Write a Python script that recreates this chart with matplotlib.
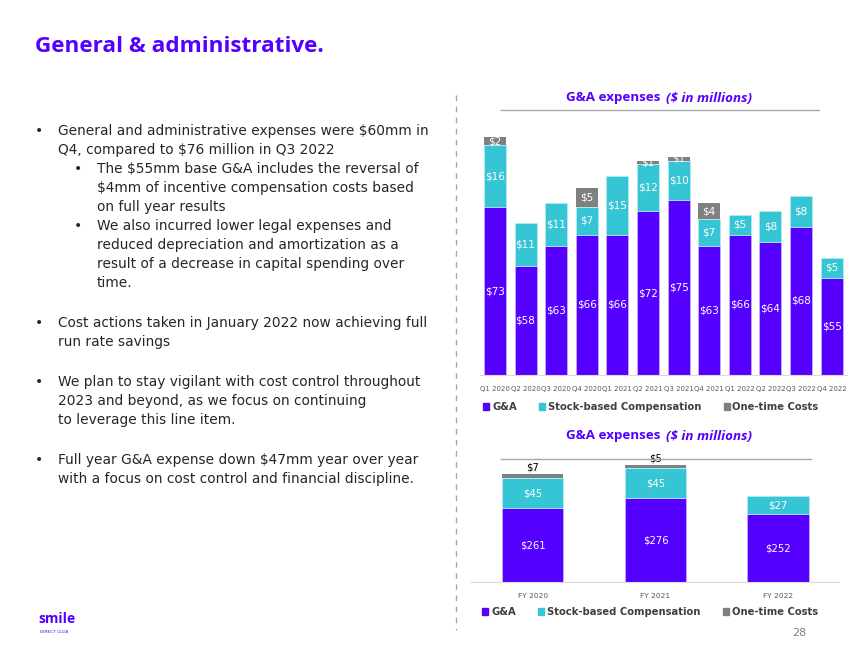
import matplotlib.pyplot as plt
from matplotlib.patches import Patch

# data
quarters = ['Q1 2020', 'Q2 2020', 'Q3 2020', 'Q4 2020', 'Q1 2021', 'Q2 2021',
            'Q3 2021', 'Q4 2021', 'Q1 2022', 'Q2 2022', 'Q3 2022', 'Q4 2022']
q_ga = [73, 58, 63, 66, 66, 72, 75, 63, 66, 64, 68, 55]
q_sbc = [16, 11, 11, 7, 15, 12, 10, 7, 5, 8, 8, 5]
q_one = [2, 0, 0, 5, 0, 1, 1, 4, 0, 0, 0, 0]

years = ['FY 2020', 'FY 2021', 'FY 2022']
y_ga = [261, 276, 252]
y_sbc = [45, 45, 27]
y_one = [7, 5, 0]

PURPLE = '#5500FF'
CYAN = '#36C5D4'
GRAY = '#808080'
TXT = '#262626'
W, H = 850, 657


def fx(px):
    return px / W


def fy(py):
    return 1 - py / H


fig = plt.figure(figsize=(8.5, 6.57), dpi=100)
fig.patch.set_facecolor('white')

# page title
fig.text(fx(35), fy(46), 'General & administrative.', color=PURPLE,
         fontsize=16.2, fontweight='bold', family='Open Sans', va='center')

# bullets
body = [
    (0, 'General and administrative expenses were $60mm in'),
    (None, 'Q4, compared to $76 million in Q3 2022'),
    (1, 'The $55mm base G&A includes the reversal of'),
    (None, '$4mm of incentive compensation costs based'),
    (None, 'on full year results'),
    (1, 'We also incurred lower legal expenses and'),
    (None, 'reduced depreciation and amortization as a'),
    (None, 'result of a decrease in capital spending over'),
    (None, 'time.'),
    ('gap', ''),
    (0, 'Cost actions taken in January 2022 now achieving full'),
    (None, 'run rate savings'),
    ('gap', ''),
    (0, 'We plan to stay vigilant with cost control throughout'),
    (None, '2023 and beyond, as we focus on continuing'),
    (None, 'to leverage this line item.'),
    ('gap', ''),
    (0, 'Full year G&A expense down $47mm year over year'),
    (None, 'with a focus on cost control and financial discipline.'),
]
y = 131
level = 0
for kind, line in body:
    if kind == 'gap':
        y += 21
        continue
    if kind is not None:
        level = kind
    bx = 35 if level == 0 else 74
    tx = 58 if level == 0 else 97
    if kind is not None:
        fig.text(fx(bx), fy(y), '\u2022', fontsize=10, color=TXT, va='center')
    fig.text(fx(tx), fy(y), line, fontsize=9.95, color=TXT, va='center',
             family='DejaVu Sans')
    y += 19

# dashed separator
fig.add_artist(plt.Line2D([fx(456), fx(456)], [fy(95), fy(630)],
                          color='#A6A6A6', lw=1, ls=(0, (4, 4))))


def chart_title(ycen, line_y, x0, x1):
    fig.text(fx(664), fy(ycen), 'G&A expenses ', color=PURPLE, fontsize=9.6,
             fontweight='bold', family='Open Sans', ha='right', va='center')
    fig.text(fx(666), fy(ycen), '($ in millions)', color=PURPLE, fontsize=9.6,
             fontweight='bold', style='italic', family='Open Sans',
             ha='left', va='center')
    fig.add_artist(plt.Line2D([fx(x0), fx(x1)], [fy(line_y), fy(line_y)],
                              color='#A6A6A6', lw=1))


def style_axes(ax):
    for s in ['top', 'right', 'left']:
        ax.spines[s].set_visible(False)
    ax.spines['bottom'].set_color('#D9D9D9')
    ax.set_yticks([])
    ax.tick_params(axis='x', length=0, colors='#595959', pad=8)
    ax.set_facecolor('none')


def seg_label(ax, x, lo, hi, val, ymin, color='white', size=7.5):
    c = (max(lo, ymin) + hi) / 2
    ax.text(x, c, f'${val}', ha='center', va='center', color=color,
            fontsize=size, family='DejaVu Sans')


# quarterly chart
chart_title(98, 110, 501, 819)
ax1 = fig.add_axes([fx(479.6), fy(375), fx(847 - 479.6), (375 - 110) / H])
ymin1 = 30
x1 = range(len(quarters))
b1 = [a + b for a, b in zip(q_ga, q_sbc)]
ax1.bar(x1, q_ga, width=0.72, color=PURPLE, edgecolor='#C8B8FF', lw=0.5)
ax1.bar(x1, q_sbc, bottom=q_ga, width=0.72, color=CYAN, edgecolor='#B8ECF2', lw=0.5)
ax1.bar(x1, q_one, bottom=b1, width=0.72, color=GRAY, lw=0)
ax1.set_ylim(ymin1, ymin1 + 265 / 3.9)
ax1.set_xlim(-0.5, len(quarters) - 0.5)
ax1.set_xticks(list(x1))
ax1.set_xticklabels(quarters, fontsize=5.0)
style_axes(ax1)
for i in x1:
    seg_label(ax1, i, 0, q_ga[i], q_ga[i], ymin1)
    seg_label(ax1, i, q_ga[i], b1[i], q_sbc[i], ymin1)
    if q_one[i]:
        seg_label(ax1, i, b1[i], b1[i] + q_one[i], q_one[i], ymin1)

handles = [Patch(color=PURPLE, label='G&A'),
           Patch(color=CYAN, label='Stock-based Compensation'),
           Patch(color=GRAY, label='One-time Costs')]
leg_kw = dict(loc='center', ncol=3, frameon=False, handlelength=0.6,
              handleheight=0.6, handletextpad=0.3, columnspacing=2.2,
              prop={'size': 7.2, 'weight': 'bold'})
leg = fig.legend(handles=handles, bbox_to_anchor=(fx(651), fy(407)), **leg_kw)
for t in leg.get_texts():
    t.set_color('#404040')

# yearly chart
chart_title(436, 459, 501, 811)
ax2 = fig.add_axes([fx(471.5), fy(582.3), fx(367.9), (582.3 - 455) / H])
ymin2 = 150
x2 = range(len(years))
b2 = [a + b for a, b in zip(y_ga, y_sbc)]
ax2.bar(x2, y_ga, width=0.5, color=PURPLE, edgecolor='#C8B8FF', lw=0.5)
ax2.bar(x2, y_sbc, bottom=y_ga, width=0.5, color=CYAN, edgecolor='#B8ECF2', lw=0.5)
ax2.bar(x2, y_one, bottom=b2, width=0.5, color=GRAY, lw=0)
ax2.set_ylim(ymin2, ymin2 + 127.3 / 0.667)
ax2.set_xlim(-0.5, len(years) - 0.5)
ax2.set_xticks(list(x2))
ax2.set_xticklabels(years, fontsize=5.4)
style_axes(ax2)
for i in x2:
    seg_label(ax2, i, 0, y_ga[i], y_ga[i], ymin2, size=7.2)
    seg_label(ax2, i, y_ga[i], b2[i], y_sbc[i], ymin2, size=7.2)
    if y_one[i]:
        ax2.text(i, b2[i] + y_one[i] + 2, f'${y_one[i]}', ha='center',
                 va='bottom', color='black', fontsize=7.2, clip_on=False)

leg2 = fig.legend(handles=handles, bbox_to_anchor=(fx(650), fy(612)), **leg_kw)
for t in leg2.get_texts():
    t.set_color('#404040')

# footer
fig.text(fx(38), fy(619), 'smile', color=PURPLE, fontsize=10,
         fontweight='bold', family='Open Sans', va='center')
fig.text(fx(40), fy(632), 'DIRECT CLUB', color=PURPLE, fontsize=3.2,
         family='DejaVu Sans', va='center')
fig.text(fx(806), fy(633), '28', color='#808080', fontsize=8,
         ha='right', va='center')

fig.savefig('out.png', dpi=100)
